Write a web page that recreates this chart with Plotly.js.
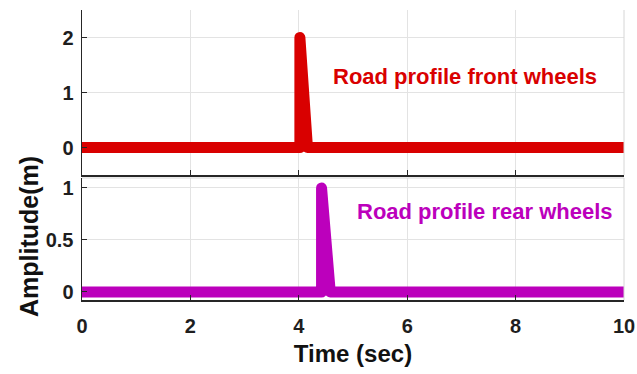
<!DOCTYPE html>
<html>
<head>
<meta charset="utf-8">
<script src="https://cdn.plot.ly/plotly-3.0.1.min.js"></script>
<style>html,body{margin:0;padding:0;background:#fff;}#chart{width:637px;height:374px;}</style>
</head>
<body>
<div id="chart"></div>
<script>
// Data
const frontTime = [0, 4.02, 4.02, 4.16, 4.16, 10];
const frontAmp  = [0, 0,    2.0,  0.4,  0,    0];
const rearTime  = [0, 4.42, 4.42, 4.58, 4.58, 10];
const rearAmp   = [0, 0,    1.0,  0.22, 0,    0];
const xTicks = [0, 2, 4, 6, 8, 10];
const frontTicks = [0, 1, 2];
const rearTicks = [0, 0.5, 1];
const rearTickText = ['0', '0.5', '1'];
const frontLabel = 'Road profile front wheels';
const rearLabel = 'Road profile rear wheels';

const red = '#d90000';
const mag = '#bc00bc';
const axisCol = '#262626';
const gridCol = '#e3e3e3';
const FAM = 'Liberation Sans, Arial, sans-serif';
const tickFont = {family: FAM, size: 20, color: '#1e1e1e', weight: 'bold'};

const traces = [
  {x: frontTime, y: frontAmp, type: 'scatter', mode: 'lines', xaxis: 'x', yaxis: 'y',
   line: {color: red, width: 11}, hoverinfo: 'skip'},
  {x: rearTime, y: rearAmp, type: 'scatter', mode: 'lines', xaxis: 'x2', yaxis: 'y2',
   line: {color: mag, width: 11}, hoverinfo: 'skip'}
];

const xCommon = {
  range: [0, 10], tickvals: xTicks, ticks: 'inside', ticklen: 5, tickcolor: axisCol,
  showline: true, linecolor: axisCol, linewidth: 1.5, showgrid: true, gridcolor: gridCol,
  gridwidth: 1, zeroline: false, tickfont: tickFont
};

const layout = {
  width: 637, height: 374,
  margin: {l: 82, r: 13, t: 10, b: 74},
  paper_bgcolor: '#fff', plot_bgcolor: '#fff',
  showlegend: false,
  xaxis: Object.assign({}, xCommon, {anchor: 'y', showticklabels: false}),
  yaxis: {domain: [0.431, 1], range: [-0.5, 2.5], tickvals: frontTicks, ticks: 'inside', ticklen: 5,
    tickcolor: axisCol, showline: true, linecolor: axisCol, linewidth: 1.5, showgrid: true,
    gridcolor: gridCol, zeroline: false, tickfont: tickFont, anchor: 'x', ticklabelstandoff: 3},
  xaxis2: Object.assign({}, xCommon, {anchor: 'y2', showticklabels: true, ticklabelstandoff: 7,
    title: {text: 'Time (sec)', font: {family: FAM, size: 24, color: '#111', weight: 'bold'}, standoff: 9}}),
  yaxis2: {domain: [0, 0.4207], range: [-0.077, 1.096], tickvals: rearTicks, ticktext: rearTickText,
    ticks: 'inside', ticklen: 5, tickcolor: axisCol, showline: true, linecolor: axisCol, linewidth: 1.5,
    showgrid: true, gridcolor: gridCol, zeroline: false, tickfont: tickFont, anchor: 'x2', ticklabelstandoff: 3},
  annotations: [
    {x: 7.06, y: 1.30, xref: 'x', yref: 'y', text: frontLabel, showarrow: false,
     font: {family: FAM, size: 22, color: red, weight: 'bold'}},
    {x: 7.44, y: 0.77, xref: 'x2', yref: 'y2', text: rearLabel, showarrow: false,
     font: {family: FAM, size: 22, color: mag, weight: 'bold'}},
    {x: 0, y: 0, xref: 'paper', yref: 'paper', text: 'Amplitude(m)', showarrow: false,
     xanchor: 'center', yanchor: 'middle',
     textangle: -90, font: {family: FAM, size: 25, color: '#111', weight: 'bold'}}
  ],
  shapes: [
    {type: 'line', xref: 'paper', yref: 'paper', x0: 1, x1: 1, y0: 0.431, y1: 1, line: {color: '#d6d6d6', width: 1}},
    {type: 'line', xref: 'paper', yref: 'paper', x0: 1, x1: 1, y0: 0, y1: 0.4207, line: {color: '#d6d6d6', width: 1}},
    {type: 'line', xref: 'paper', yref: 'paper', x0: 0, x1: 1, y0: 0.4207, y1: 0.4207, line: {color: '#d6d6d6', width: 1}}
  ]
};
// Amplitude label position in pixels -> paper coords
const plotW = 637 - 82 - 13, plotH = 374 - 10 - 74;
layout.annotations[2].x = (29 - 82) / plotW;
layout.annotations[2].y = (374 - 74 - 237) / plotH;

Plotly.newPlot('chart', traces, layout, {staticPlot: true, displayModeBar: false}).then(function () {
  document.querySelectorAll('.scatterlayer .js-line').forEach(function (p) {
    p.style.strokeLinejoin = 'round';
  });
});
</script>
</body>
</html>
